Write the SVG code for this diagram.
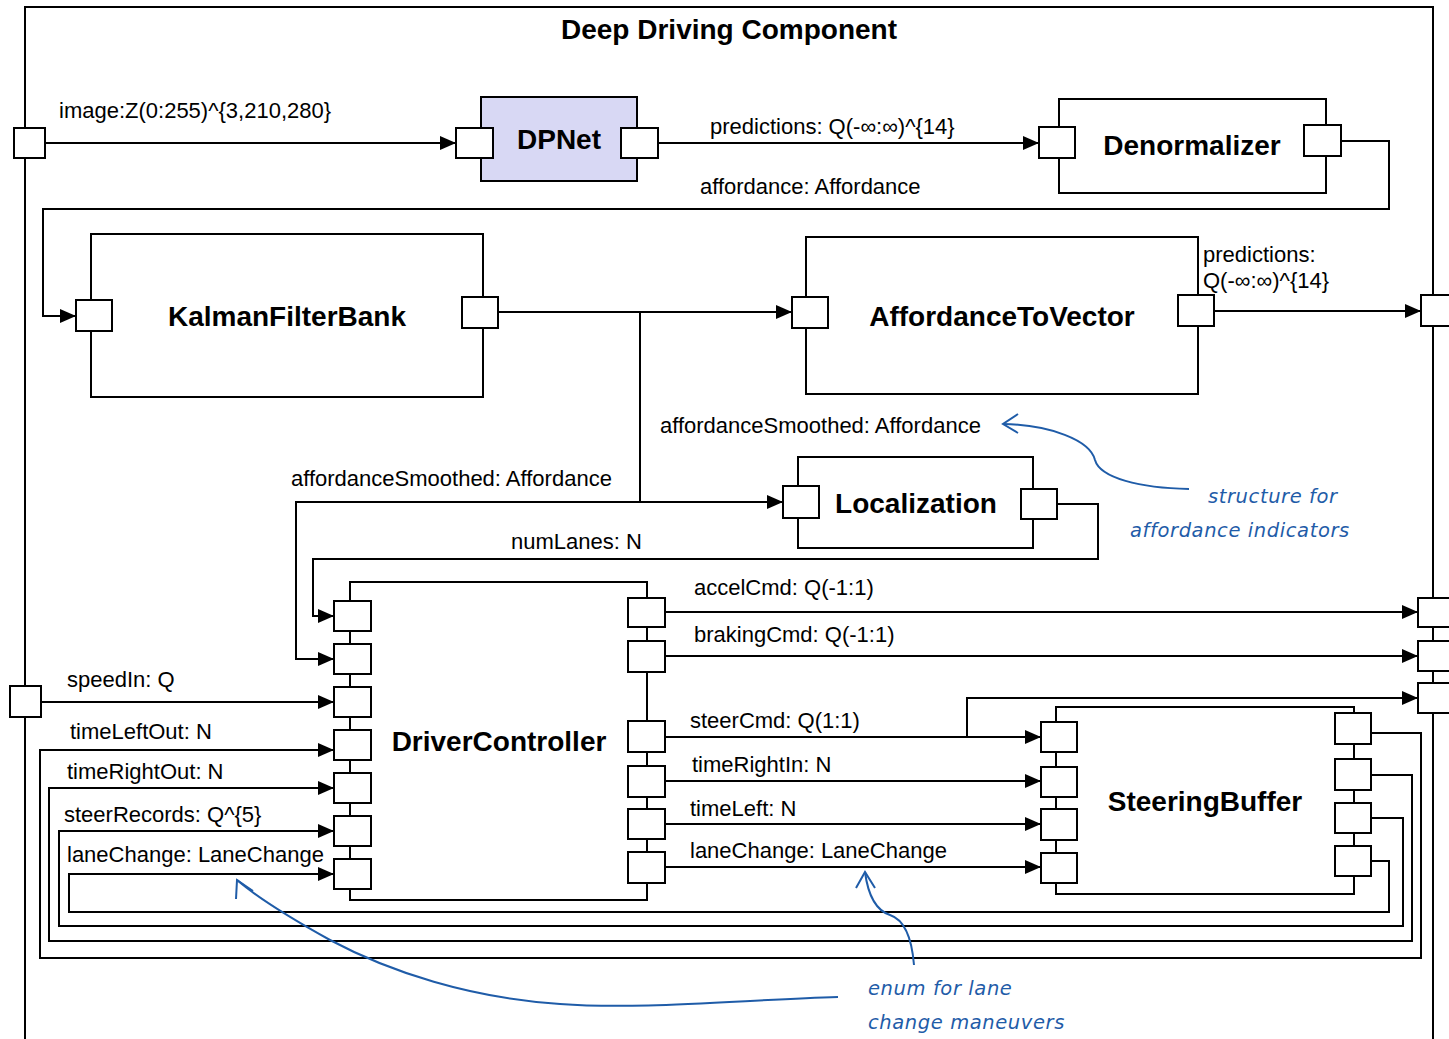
<svg xmlns="http://www.w3.org/2000/svg" width="1449" height="1039" viewBox="0 0 1449 1039">
  <style>
    .frame { fill: none; stroke: #000; stroke-width: 2; }
    .comp { fill: #fff; stroke: #000; stroke-width: 2; }
    .comp.net { fill: #d8d8f4; }
    .port { fill: #fff; stroke: #000; stroke-width: 2; }
    .wire { fill: none; stroke: #000; stroke-width: 2; }
    .arr { marker-end: url(#tip); }
    .lbl { font-family: "Liberation Sans", Arial, sans-serif; font-size: 22px; fill: #000; }
    .name { font-family: "Liberation Sans", Arial, sans-serif; font-size: 28px; font-weight: bold; fill: #000; text-anchor: middle; }
    .note { font-family: "DejaVu Sans", sans-serif; font-style: italic; font-size: 19.5px; fill: #1f5ca8; letter-spacing: 0.6px; }
    .noteline { fill: none; stroke: #1f5ca8; stroke-width: 2; }
  </style>
  <defs>
    <marker id="tip" markerUnits="userSpaceOnUse" markerWidth="16" markerHeight="14" refX="16" refY="7" orient="auto">
      <path d="M0,0 L16,7 L0,14 z" fill="#000"/>
    </marker>
  </defs>

  <rect width="1449" height="1039" fill="#fff"/>

  <!-- enclosing component -->
  <g id="deep-driving-component">
    <rect class="frame" x="25" y="7" width="1408" height="1100"/>
    <text class="name" x="729" y="39">Deep Driving Component</text>
  </g>

  <!-- connectors -->
  <g id="connectors">
    <path class="wire arr" d="M45,143 H456"/>
    <path class="wire arr" d="M658,143 H1039"/>
    <path class="wire arr" d="M1341,141 H1389 V209 H43 V316 H76"/>
    <path class="wire arr" d="M498,312 H792"/>
    <path class="wire arr" d="M640,312 V502 H783"/>
    <path class="wire arr" d="M640,502 H296 V659 H334"/>
    <path class="wire arr" d="M1214,311 H1421"/>
    <path class="wire arr" d="M1057,504 H1098 V559 H313 V616 H334"/>
    <path class="wire arr" d="M41,702 H334"/>
    <path class="wire arr" d="M665,612 H1418"/>
    <path class="wire arr" d="M665,656 H1418"/>
    <path class="wire arr" d="M665,737 H1041"/>
    <path class="wire arr" d="M967,737 V698 H1418"/>
    <path class="wire arr" d="M665,781 H1041"/>
    <path class="wire arr" d="M665,824 H1041"/>
    <path class="wire arr" d="M665,867 H1041"/>
    <path class="wire arr" d="M1371,733 H1421 V958 H40 V750 H334"/>
    <path class="wire arr" d="M1371,775 H1412 V941 H49 V788 H334"/>
    <path class="wire arr" d="M1371,818 H1403 V926 H59 V831 H334"/>
    <path class="wire arr" d="M1371,861 H1389 V912 H69 V874 H334"/>

    <text class="lbl" x="59" y="118">image:Z(0:255)^{3,210,280}</text>
    <text class="lbl" x="710" y="134">predictions: Q(-∞:∞)^{14}</text>
    <text class="lbl" x="700" y="194">affordance: Affordance</text>
    <text class="lbl" x="1203" y="262">predictions:</text>
    <text class="lbl" x="1203" y="288">Q(-∞:∞)^{14}</text>
    <text class="lbl" x="660" y="433">affordanceSmoothed: Affordance</text>
    <text class="lbl" x="291" y="486">affordanceSmoothed: Affordance</text>
    <text class="lbl" x="511" y="549">numLanes: N</text>
    <text class="lbl" x="694" y="595">accelCmd: Q(-1:1)</text>
    <text class="lbl" x="694" y="642">brakingCmd: Q(-1:1)</text>
    <text class="lbl" x="690" y="728">steerCmd: Q(1:1)</text>
    <text class="lbl" x="692" y="772">timeRightIn: N</text>
    <text class="lbl" x="690" y="816">timeLeft: N</text>
    <text class="lbl" x="690" y="858">laneChange: LaneChange</text>
    <text class="lbl" x="67" y="687">speedIn: Q</text>
    <text class="lbl" x="70" y="739">timeLeftOut: N</text>
    <text class="lbl" x="67" y="779">timeRightOut: N</text>
    <text class="lbl" x="64" y="822">steerRecords: Q^{5}</text>
    <text class="lbl" x="67" y="862">laneChange: LaneChange</text>
  </g>

  <!-- boundary ports of the enclosing component -->
  <g id="boundary-ports">
    <rect class="port" x="14" y="128" width="31" height="30"/>
    <rect class="port" x="10" y="686" width="31" height="31"/>
    <rect class="port" x="1421" y="295" width="37" height="31"/>
    <rect class="port" x="1418" y="598" width="37" height="29"/>
    <rect class="port" x="1418" y="641" width="37" height="30"/>
    <rect class="port" x="1418" y="683" width="37" height="30"/>
  </g>

  <g id="dpnet">
    <rect class="comp net" x="481" y="97" width="156" height="84"/>
    <rect class="port" x="456" y="128" width="37" height="30"/>
    <rect class="port" x="621" y="128" width="37" height="30"/>
    <text class="name" x="559" y="149">DPNet</text>
  </g>

  <g id="denormalizer">
    <rect class="comp" x="1059" y="99" width="267" height="94"/>
    <rect class="port" x="1039" y="127" width="36" height="31"/>
    <rect class="port" x="1304" y="125" width="37" height="31"/>
    <text class="name" x="1192" y="155">Denormalizer</text>
  </g>

  <g id="kalman-filter-bank">
    <rect class="comp" x="91" y="234" width="392" height="163"/>
    <rect class="port" x="76" y="300" width="36" height="31"/>
    <rect class="port" x="462" y="297" width="36" height="31"/>
    <text class="name" x="287" y="326">KalmanFilterBank</text>
  </g>

  <g id="affordance-to-vector">
    <rect class="comp" x="806" y="237" width="392" height="157"/>
    <rect class="port" x="792" y="297" width="36" height="31"/>
    <rect class="port" x="1178" y="295" width="36" height="31"/>
    <text class="name" x="1002" y="326">AffordanceToVector</text>
  </g>

  <g id="localization">
    <rect class="comp" x="798" y="457" width="235" height="91"/>
    <rect class="port" x="783" y="486" width="36" height="32"/>
    <rect class="port" x="1021" y="489" width="36" height="30"/>
    <text class="name" x="916" y="513">Localization</text>
  </g>

  <g id="driver-controller">
    <rect class="comp" x="350" y="582" width="297" height="318"/>
    <rect class="port" x="334" y="601" width="37" height="30"/>
    <rect class="port" x="334" y="644" width="37" height="30"/>
    <rect class="port" x="334" y="687" width="37" height="30"/>
    <rect class="port" x="334" y="730" width="37" height="30"/>
    <rect class="port" x="334" y="773" width="37" height="30"/>
    <rect class="port" x="334" y="816" width="37" height="30"/>
    <rect class="port" x="334" y="859" width="37" height="30"/>
    <rect class="port" x="628" y="598" width="37" height="29"/>
    <rect class="port" x="628" y="641" width="37" height="31"/>
    <rect class="port" x="628" y="721" width="37" height="31"/>
    <rect class="port" x="628" y="766" width="37" height="31"/>
    <rect class="port" x="628" y="809" width="37" height="30"/>
    <rect class="port" x="628" y="852" width="37" height="31"/>
    <text class="name" x="499" y="751">DriverController</text>
  </g>

  <g id="steering-buffer">
    <rect class="comp" x="1056" y="707" width="298" height="187"/>
    <rect class="port" x="1041" y="722" width="36" height="30"/>
    <rect class="port" x="1041" y="767" width="36" height="30"/>
    <rect class="port" x="1041" y="809" width="36" height="31"/>
    <rect class="port" x="1041" y="853" width="36" height="30"/>
    <rect class="port" x="1335" y="713" width="36" height="31"/>
    <rect class="port" x="1335" y="759" width="36" height="31"/>
    <rect class="port" x="1335" y="803" width="36" height="30"/>
    <rect class="port" x="1335" y="846" width="36" height="30"/>
    <text class="name" x="1205" y="811">SteeringBuffer</text>
  </g>

  <!-- hand-written notes -->
  <g id="note-affordance">
    <path class="noteline" d="M1189,489 C1140,488 1100,478 1095,460 C1090,440 1050,425 1003,424"/>
    <path class="noteline" d="M1018,414 L1003,424 L1018,433"/>
    <text class="note" x="1208" y="503">structure for</text>
    <text class="note" x="1130" y="537">affordance indicators</text>
  </g>

  <g id="note-lanechange">
    <path class="noteline" d="M838,997 C740,1000 640,1010 560,1004 C470,998 390,972 330,940 C285,915 258,898 237,880"/>
    <path class="noteline" d="M236,899 L237,880 L253,891"/>
    <path class="noteline" d="M914,965 C912,940 905,920 890,915 C875,910 868,895 865,872"/>
    <path class="noteline" d="M856,888 L865,872 L875,888"/>
    <text class="note" x="868" y="995">enum for lane</text>
    <text class="note" x="868" y="1029">change maneuvers</text>
  </g>
</svg>
